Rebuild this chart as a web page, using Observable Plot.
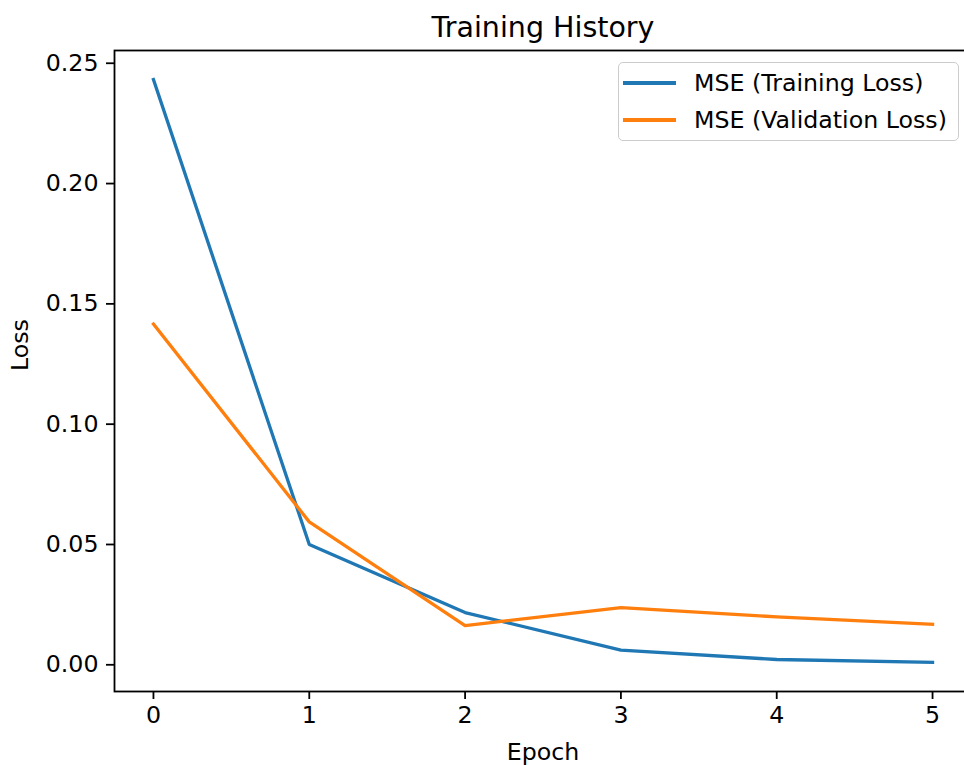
<!DOCTYPE html>
<html>
<head>
<meta charset="utf-8">
<script src="https://cdn.jsdelivr.net/npm/d3@7"></script>
<script src="https://cdn.jsdelivr.net/npm/@observablehq/plot@0.6"></script>
<style>
  html, body { margin: 0; padding: 0; background: #fff; overflow: hidden; }
  #wrap { position: relative; width: 964px; height: 765px; overflow: hidden; font-family: "DejaVu Sans", sans-serif; color: #000; }
  #wrap svg { position: absolute; left: 0; top: 0; max-width: none !important; }
  .legend { position: absolute; left: 618px; top: 62px; width: 341px; height: 79px; border: 1.8px solid #cccccc; border-radius: 5px; background: rgba(255,255,255,0.8); box-sizing: border-box; }
  .legend .row { position: absolute; left: 0; height: 30px; display: flex; align-items: center; font-size: 23.7px; white-space: nowrap; }
  .legend .sw { display: inline-block; width: 53px; height: 3.3px; margin-left: 4px; margin-right: 18px; }
</style>
</head>
<body>
<div id="wrap"></div>
<script>
// ---- data ----
const epochs = [0, 1, 2, 3, 4, 5];
const trainLoss = [0.2432, 0.0500, 0.0217, 0.0061, 0.0022, 0.0010];
const valLoss = [0.1416, 0.0594, 0.0163, 0.0238, 0.0199, 0.0168];
const seriesNames = ["MSE (Training Loss)", "MSE (Validation Loss)"];
const seriesColors = ["#1f77b4", "#ff7f0e"];
const yTicks = [0.00, 0.05, 0.10, 0.15, 0.20, 0.25];
const titleText = "Training History";
const xLabel = "Epoch";
const yLabel = "Loss";

const rows = epochs.map((e, i) => ({epoch: e, train: trainLoss[i], val: valLoss[i]}));

const chart = Plot.plot({
  width: 971,
  height: 765,
  marginLeft: 114,
  marginRight: 0,
  marginTop: 50,
  marginBottom: 74,
  style: {fontFamily: "DejaVu Sans, sans-serif", color: "#000", background: "transparent", overflow: "visible", maxWidth: "none"},
  x: {domain: [-0.25, 5.25]},
  y: {domain: [-0.0111, 0.2553]},
  marks: [
    Plot.line(rows, {x: "epoch", y: "train", stroke: seriesColors[0], strokeWidth: 3.3, strokeLinejoin: "round", strokeLinecap: "square"}),
    Plot.line(rows, {x: "epoch", y: "val", stroke: seriesColors[1], strokeWidth: 3.3, strokeLinejoin: "round", strokeLinecap: "square"}),
    Plot.frame({stroke: "#000", strokeWidth: 1.8}),
    Plot.axisX({ticks: epochs, tickFormat: d => String(d), tickSize: 8, tickPadding: 7, fontSize: 23.7, strokeWidth: 1.8, label: null}),
    Plot.axisY({ticks: yTicks, tickFormat: d3.format(".2f"), tickSize: 8, tickPadding: 8, fontSize: 23.7, strokeWidth: 1.8, label: null}),
    Plot.text([titleText], {text: d => d, frameAnchor: "top", lineAnchor: "bottom", dy: -14, fontSize: 28.5, fill: "#000"}),
    Plot.text([xLabel], {text: d => d, frameAnchor: "bottom", lineAnchor: "bottom", dy: 68, fontSize: 23.7, fill: "#000"}),
    Plot.text([yLabel], {text: d => d, frameAnchor: "left", rotate: -90, dx: -94, fontSize: 23.7, fill: "#000"})
  ]
});

const wrap = document.getElementById("wrap");
wrap.appendChild(chart);

const legend = document.createElement("div");
legend.className = "legend";
seriesNames.forEach((name, i) => {
  const row = document.createElement("div");
  row.className = "row";
  row.style.top = (5 + i * 37) + "px";
  const sw = document.createElement("span");
  sw.className = "sw";
  sw.style.background = seriesColors[i];
  const label = document.createElement("span");
  label.textContent = name;
  row.appendChild(sw);
  row.appendChild(label);
  legend.appendChild(row);
});
wrap.appendChild(legend);
</script>
</body>
</html>
